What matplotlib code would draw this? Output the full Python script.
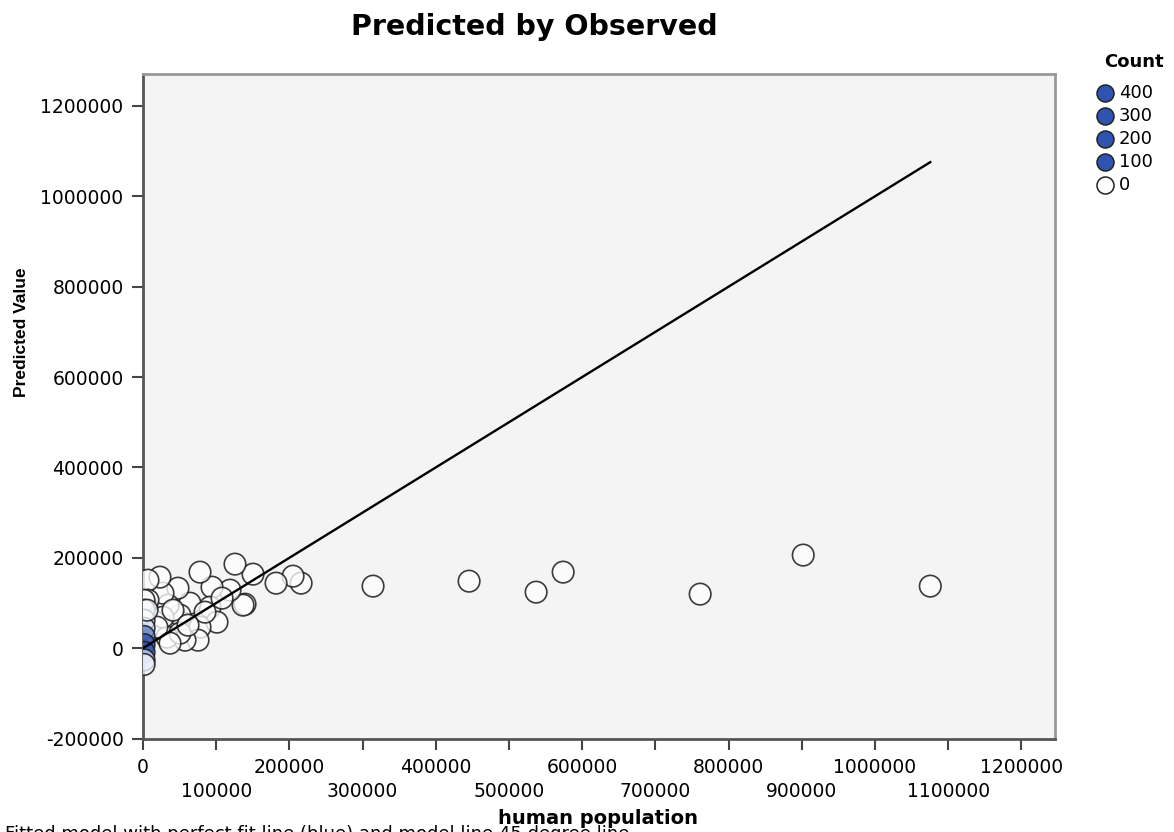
import matplotlib
matplotlib.use("Agg")
import matplotlib.pyplot as plt
import numpy as np
from matplotlib.colors import LinearSegmentedColormap, Normalize, to_rgba
from matplotlib.ticker import FuncFormatter, FixedLocator

# observed (human population) vs predicted value, one row per plotted case
observed = [902000, 1075600, 761200, 574000, 537100, 445500, 314300, 216000,
            205000, 181800, 150300, 139400, 136700, 125700, 118900, 94300,
            91600, 101100, 77900, 77900, 75200, 64200, 57400, 47800, 50600,
            34200, 32800, 27300, 27300, 23200, 19100, 6800, 6800, 41000,
            108000, 50600, 36900, 84700, 61500,
            1500, 1500, 1500, 1500, 1500, 1500, 1500, 1500, 1500, 5500]
predicted = [206000, 137300, 119600, 168300, 124000, 148300, 137300, 143900,
             159400, 143900, 163800, 97400, 95200, 186000, 128400, 135000,
             90800, 57600, 168300, 46500, 17700, 99600, 17700, 132800, 73100,
             95200, 24400, 121800, 68600, 157200, 46500, 150500, 106300, 84100,
             110700, 33200, 11100, 79700, 50900,
             106000, 84000, 62000, 44000, 26000, 8000, -9000, -26000, -36000, 84100]
counts = [1] * 39 + [5, 10, 18, 35, 75, 160, 120, 45, 12, 4]

legend_counts = [400, 300, 200, 100, 0]
fit_line = [0, max(observed)]
x_ticks_top = [0, 200000, 400000, 600000, 800000, 1000000, 1200000]
x_ticks_low = [100000, 300000, 500000, 700000, 900000, 1100000]
y_ticks = [-200000, 0, 200000, 400000, 600000, 800000, 1000000, 1200000]

blue = "#2f53b0"
cmap = LinearSegmentedColormap.from_list("cnt", ["#ffffff", "#c9d7f5", blue])
norm = Normalize(0, 90, clip=True)

W, H = 1174, 832
fig = plt.figure(figsize=(W / 100, H / 100), dpi=100)
ax = fig.add_axes([143 / W, 1 - 739 / H, (1055 - 143) / W, (739 - 74) / H])
ax.set_facecolor("#f4f4f4")

faces = [to_rgba(cmap(norm(c)), 0.78) for c in counts]
ax.scatter(observed, predicted, s=240, c=faces, edgecolors=(0.1, 0.1, 0.1, 0.85),
           linewidths=1.2, zorder=3)
ax.plot(fit_line, fit_line, color="black", lw=1.7, zorder=4)

ax.set_xlim(0, 1246000)
ax.set_ylim(-201000, 1270700)

fmt = FuncFormatter(lambda v, p: "%d" % v)
ax.xaxis.set_major_locator(FixedLocator(x_ticks_top))
ax.xaxis.set_minor_locator(FixedLocator(x_ticks_low))
ax.xaxis.set_major_formatter(fmt)
ax.xaxis.set_minor_formatter(fmt)
ax.set_yticks(y_ticks)
ax.yaxis.set_major_formatter(fmt)
ax.tick_params(which="both", length=8, width=1.5, color="#444444", labelsize=13.5)
ax.tick_params(axis="y", pad=6)
ax.tick_params(axis="x", which="major", pad=6)
ax.tick_params(axis="x", which="minor", pad=23)

for side in ["left", "bottom"]:
    ax.spines[side].set_color("#555555")
    ax.spines[side].set_linewidth(2)
for side in ["top", "right"]:
    ax.spines[side].set_color("#999999")
    ax.spines[side].set_linewidth(2)

fig.text(534 / W, 1 - 27 / H, "Predicted by Observed", ha="center", va="center",
         fontsize=20.5, fontweight="bold")
fig.text(22 / W, 1 - 332 / H, "Predicted Value", rotation=90, ha="center",
         va="center", fontsize=12.5, fontweight="bold", family="Liberation Sans")
fig.text(598 / W, 1 - 818 / H, "human population", ha="center", va="center",
         fontsize=14, fontweight="bold")
fig.text(5 / W, 1 - 825 / H, "Fitted model with perfect fit line (blue) and model line 45 degree line",
         ha="left", va="top", fontsize=13)

# legend drawn by hand on an overlay in pixel coordinates
lax = fig.add_axes([0, 0, 1, 1], facecolor="none")
lax.set_xlim(0, W)
lax.set_ylim(H, 0)
lax.axis("off")
lax.text(1134, 62, "Count", ha="center", va="center", fontsize=13, fontweight="bold")
for i, c in enumerate(legend_counts):
    yy = 93 + 23 * i
    lax.scatter([1105], [yy], s=150, c=(blue if c > 0 else "white"),
                edgecolors="#222222", linewidths=1.1)
    lax.text(1119, yy, str(c), ha="left", va="center", fontsize=13)

plt.savefig("out.png", dpi=100)
